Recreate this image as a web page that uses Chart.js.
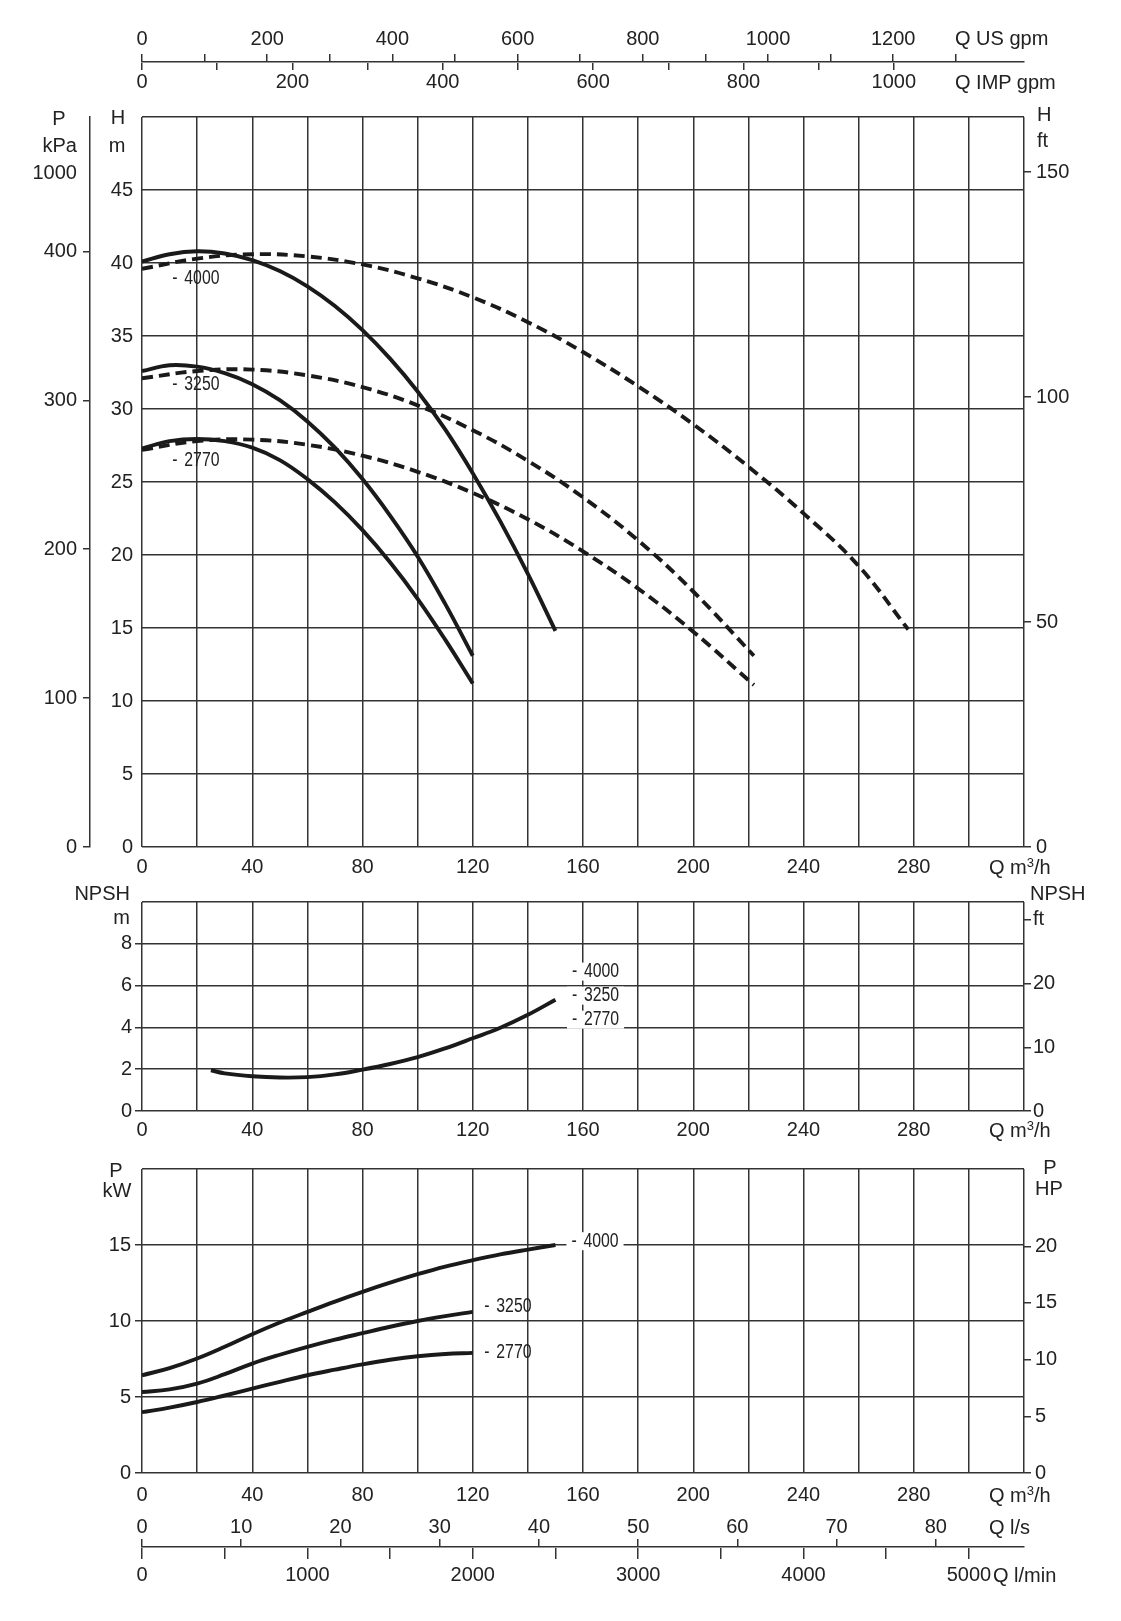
<!DOCTYPE html>
<html>
<head>
<meta charset="utf-8">
<title>Pump curves</title>
<script src="https://cdn.jsdelivr.net/npm/chart.js@4.4.1/dist/chart.umd.min.js"></script>
<style>
  body { margin: 0; background: #fff; }
  #page { position: relative; width: 1121px; height: 1621px; overflow: hidden;
          font-family: "Liberation Sans", Arial, Helvetica, sans-serif; color: #222; }
  #page canvas { position: absolute; left: 0; }
  .lab { position: absolute; font-size: 20px; line-height: 20px; white-space: nowrap; transform: translateY(-50%); }
  .lab sup { font-size: 13px; line-height: 0; vertical-align: 7px; }
</style>
</head>
<body>
<div id="page">
  <canvas id="topAxes" width="1121" height="100" style="top:0"></canvas>
  <canvas id="headChart" width="1121" height="800" style="top:95px"></canvas>
  <canvas id="npshChart" width="1121" height="280" style="top:880px"></canvas>
  <canvas id="powerChart" width="1121" height="360" style="top:1150px"></canvas>
  <canvas id="bottomAxes" width="1121" height="116" style="top:1505px"></canvas>
</div>
<script>
// speeds, used for the curve labels
const rpm = ['4000', '3250', '2770'];

// head H (m) against flow Q (m3/h), solid curves
const qSolid4000 = [0, 10, 20, 30, 40, 50, 60, 70, 80, 90, 100, 110, 120, 130, 140, 150];
const hSolid4000 = [40.1, 40.6, 40.8, 40.65, 40.2, 39.45, 38.4, 37.05, 35.4, 33.45, 31.2, 28.6, 25.6, 22.3, 18.7, 14.8];
const qSolid3250 = [0, 10, 20, 30, 40, 50, 60, 70, 80, 90, 100, 110, 120];
const hSolid3250 = [32.6, 33.0, 32.9, 32.45, 31.7, 30.6, 29.15, 27.35, 25.2, 22.7, 19.9, 16.65, 13.1];
const qSolid2770 = [0, 10, 20, 30, 40, 50, 60, 70, 80, 90, 100, 110, 120];
const hSolid2770 = [27.3, 27.8, 27.95, 27.8, 27.35, 26.5, 25.2, 23.6, 21.7, 19.5, 17.0, 14.2, 11.2];

// head, dashed curves
const qDash4000 = [0, 20, 40, 60, 80, 100, 120, 140, 160, 180, 200, 220, 240, 260, 278];
const hDash4000 = [39.6, 40.3, 40.6, 40.45, 39.9, 38.95, 37.65, 35.95, 33.9, 31.55, 28.95, 26.05, 22.85, 19.25, 14.9];
const qDash3250 = [0, 20, 40, 60, 80, 100, 120, 140, 160, 180, 200, 222];
const hDash3250 = [32.1, 32.6, 32.7, 32.3, 31.5, 30.25, 28.55, 26.45, 23.95, 21.0, 17.5, 13.1];
const qDash2770 = [0, 20, 40, 60, 80, 100, 120, 140, 160, 180, 200, 222];
const hDash2770 = [27.2, 27.8, 27.9, 27.55, 26.8, 25.7, 24.25, 22.45, 20.25, 17.7, 14.75, 11.1];

// NPSH (m)
const qNpsh = [25, 30, 40, 50, 60, 70, 80, 90, 100, 110, 120, 130, 140, 150];
const npsh = [1.95, 1.8, 1.66, 1.6, 1.62, 1.75, 1.98, 2.25, 2.58, 3.0, 3.48, 3.98, 4.6, 5.32];

// shaft power P (kW)
const qPower4000 = [0, 10, 20, 30, 40, 50, 60, 70, 80, 90, 100, 110, 120, 130, 140, 150];
const p4000 = [6.43, 6.9, 7.53, 8.3, 9.13, 9.9, 10.6, 11.28, 11.92, 12.52, 13.08, 13.58, 14.0, 14.38, 14.7, 15.0];
const qPower3250 = [0, 10, 20, 30, 40, 50, 60, 70, 80, 90, 100, 110, 120];
const p3250 = [5.33, 5.5, 5.88, 6.5, 7.2, 7.78, 8.3, 8.77, 9.2, 9.62, 10.0, 10.32, 10.6];
const qPower2770 = [0, 10, 20, 30, 40, 50, 60, 70, 80, 90, 100, 110, 120];
const p2770 = [4.0, 4.3, 4.67, 5.1, 5.55, 6.0, 6.43, 6.8, 7.15, 7.45, 7.68, 7.83, 7.9];

// where the speed labels sit (data coordinates)
const headLabelQ = [11, 11, 11];
const headLabelH = [38.95, 31.65, 26.45];
const npshLabelQ = [156, 156, 156];
const npshLabelV = [6.67, 5.52, 4.37];
const powerLabelQ = [155.8, 124.2, 124.2];
const powerLabelV = [15.25, 10.98, 7.92];

// tick labels
const flowTicks = [0, 40, 80, 120, 160, 200, 240, 280];
const usGpmTicks = [0, 200, 400, 600, 800, 1000, 1200];
const impGpmTicks = [0, 200, 400, 600, 800, 1000];
const lsTicks = [0, 10, 20, 30, 40, 50, 60, 70, 80];
const lminTicks = [0, 1000, 2000, 3000, 4000, 5000];
const headTicks = [0, 5, 10, 15, 20, 25, 30, 35, 40, 45];
const kpaTicks = [0, 100, 200, 300, 400];
const headFtTicks = [0, 50, 100, 150];
const npshTicks = [0, 2, 4, 6, 8];
const npshFtTicks = [0, 10, 20, 30];
const powerTicks = [0, 5, 10, 15];
const hpTicks = [0, 5, 10, 15, 20, 25];

// unit conversions from the main units
const Q_MAX = 320;
const M3H_PER_USGPM = 0.227125;
const M3H_PER_IMPGPM = 0.272765;
const M3H_PER_LS = 3.6;
const M3H_PER_LMIN = 0.06;
const KPA_PER_M = 9.80665;
const FT_PER_M = 3.28084;
const HEAD_FT_PER_M = 3.245;   // the head ft scale on the sheet is drawn a little short
const HP_PER_KW = 1.34102;

const GRID = '#333';
const INK = '#1a1a1a';
const NONE = 'rgba(0,0,0,0)';

Chart.defaults.font.family = '"Liberation Sans", Arial, Helvetica, sans-serif';
Chart.defaults.font.size = 20;
Chart.defaults.color = '#222';

function steps(from, to, step) {
  const out = [];
  for (let v = from; v <= to + 1e-9; v += step) out.push(Math.round(v * 1000) / 1000);
  return out;
}

// replace Chart.js' own tick generation with a fixed list
function fixedTicks(values) {
  return s => { s.ticks = values.map(v => ({ value: v })); };
}

function pts(qs, vs) {
  return qs.map((q, i) => ({ x: q, y: vs[i] }));
}

function curve(qs, vs, dashed) {
  return {
    data: pts(qs, vs),
    borderColor: INK,
    borderWidth: 3.9,
    borderDash: dashed ? [11, 6] : [],
    pointRadius: 0,
    tension: 0.4,
    fill: false
  };
}

// speed labels drawn in condensed type at data positions
const curveLabels = {
  id: 'curveLabels',
  afterDatasetsDraw(chart, args, opts) {
    const ctx = chart.ctx;
    const sx = chart.scales.x, sy = chart.scales.y;
    ctx.save();
    ctx.font = '20px "Liberation Sans", Arial, sans-serif';
    ctx.textBaseline = 'middle';
    opts.items.forEach(it => {
      const x = sx.getPixelForValue(it.q);
      const y = sy.getPixelForValue(it.v);
      const w = ctx.measureText(it.text).width * 0.79;
      if (it.box) {
        ctx.fillStyle = '#fff';
        ctx.fillRect(x - 5, y - 9, w + 22, 18);
      }
      ctx.fillStyle = '#222';
      ctx.save();
      ctx.translate(x, y);
      ctx.scale(0.79, 1);
      ctx.fillText('-', 0, 0);
      ctx.restore();
      ctx.save();
      ctx.translate(x + 12, y);
      ctx.scale(0.79, 1);
      ctx.fillText(it.text, 0, 0);
      ctx.restore();
    });
    ctx.restore();
  }
};

function labelItems(qs, vs, boxed) {
  return rpm.map((t, i) => ({ text: t, q: qs[i], v: vs[i], box: boxed[i] }));
}

function flowAxis(pad, height) {
  return {
    type: 'linear', min: 0, max: Q_MAX,
    afterBuildTicks: fixedTicks(steps(0, Q_MAX, 20)),
    ticks: { autoSkip: false, maxRotation: 0, padding: pad,
             callback: v => flowTicks.includes(v) ? v : '' },
    grid: { color: GRID, lineWidth: 1.5, drawTicks: false },
    border: { display: false },
    afterFit: s => { s.height = height; }
  };
}

function baseOptions(padTop) {
  return {
    responsive: false,
    animation: false,
    events: [],
    layout: { padding: { top: padTop, left: 0, right: 0, bottom: 0 } },
    plugins: { legend: { display: false }, tooltip: { enabled: false } }
  };
}

// ---------- top strip: US gpm / IMP gpm ----------
new Chart(document.getElementById('topAxes'), {
  type: 'line',
  data: { datasets: [] },
  options: Object.assign(baseOptions(0), {
    layout: { padding: { left: 142, right: 97, top: 0, bottom: 0 } },
    scales: {
      x: {
        type: 'linear', position: 'top', min: 0, max: Q_MAX / M3H_PER_USGPM,
        afterBuildTicks: fixedTicks(steps(0, 1300, 100)),
        ticks: { autoSkip: false, maxRotation: 0, padding: 3,
                 callback: v => usGpmTicks.includes(v) ? v : '' },
        grid: { drawOnChartArea: false, tickLength: 8, lineWidth: 1.5, color: GRID },
        border: { display: true, color: GRID, width: 1.5 },
        afterFit: s => { s.height = 62; }
      },
      x2: {
        type: 'linear', position: 'bottom', min: 0, max: Q_MAX / M3H_PER_IMPGPM,
        afterBuildTicks: fixedTicks(steps(0, 1000, 100)),
        ticks: { autoSkip: false, maxRotation: 0, padding: 0,
                 callback: v => impGpmTicks.includes(v) ? v : '' },
        grid: { drawOnChartArea: false, tickLength: 7, lineWidth: 1.5, color: GRID },
        border: { display: false },
        afterFit: s => { s.height = 37; }
      },
      y: { type: 'linear', display: false, min: 0, max: 1 }
    }
  })
});

// ---------- head chart ----------
new Chart(document.getElementById('headChart'), {
  type: 'line',
  data: {
    datasets: [
      curve(qSolid4000, hSolid4000, false),
      curve(qSolid3250, hSolid3250, false),
      curve(qSolid2770, hSolid2770, false),
      curve(qDash4000, hDash4000, true),
      curve(qDash3250, hDash3250, true),
      curve(qDash2770, hDash2770, true)
    ]
  },
  options: Object.assign(baseOptions(22), {
    plugins: {
      legend: { display: false }, tooltip: { enabled: false },
      curveLabels: { items: labelItems(headLabelQ, headLabelH, [false, false, false]) }
    },
    scales: {
      x: flowAxis(8, 48),
      y: {
        type: 'linear', position: 'left', weight: 0, min: 0, max: 50,
        afterBuildTicks: fixedTicks(steps(0, 50, 5)),
        ticks: { padding: 9, autoSkip: false, callback: v => headTicks.includes(v) ? v : '' },
        grid: { color: GRID, lineWidth: 1.5, drawTicks: false },
        border: { display: false },
        afterFit: s => { s.width = 52; }
      },
      kpa: {
        type: 'linear', position: 'left', weight: 1, min: 0, max: 50 * KPA_PER_M,
        afterBuildTicks: fixedTicks(kpaTicks),
        ticks: { padding: 6, autoSkip: false },
        grid: { drawOnChartArea: false, tickLength: 7, lineWidth: 1.5, color: GRID },
        border: { display: true, color: GRID, width: 1.5 },
        afterFit: s => { s.width = 90; }
      },
      ft: {
        type: 'linear', position: 'right', min: 0, max: 50 * HEAD_FT_PER_M,
        afterBuildTicks: fixedTicks(headFtTicks),
        ticks: { padding: 5, autoSkip: false },
        grid: { drawOnChartArea: false, tickLength: 7, lineWidth: 1.5, color: GRID },
        border: { display: false },
        afterFit: s => { s.width = 97; }
      }
    }
  }),
  plugins: [curveLabels]
});

// ---------- NPSH chart ----------
new Chart(document.getElementById('npshChart'), {
  type: 'line',
  data: { datasets: [curve(qNpsh, npsh, false)] },
  options: Object.assign(baseOptions(22), {
    plugins: {
      legend: { display: false }, tooltip: { enabled: false },
      curveLabels: { items: labelItems(npshLabelQ, npshLabelV, [true, true, true]) }
    },
    scales: {
      x: flowAxis(7, 49),
      y: {
        type: 'linear', position: 'left', min: 0, max: 10,
        afterBuildTicks: fixedTicks(steps(0, 10, 2)),
        ticks: { padding: 3, autoSkip: false, callback: v => npshTicks.includes(v) ? v : '' },
        grid: { color: GRID, lineWidth: 1.5, tickLength: 7,
                tickColor: c => (c.tick && c.tick.value >= 10) ? NONE : GRID },
        border: { display: false },
        afterFit: s => { s.width = 142; }
      },
      ft: {
        type: 'linear', position: 'right', min: 0, max: 10 * FT_PER_M,
        afterBuildTicks: fixedTicks(npshFtTicks),
        ticks: { padding: 2, autoSkip: false, callback: v => v === 30 ? 'ft' : v },
        grid: { drawOnChartArea: false, tickLength: 7, lineWidth: 1.5, color: GRID },
        border: { display: false },
        afterFit: s => { s.width = 97; }
      }
    }
  }),
  plugins: [curveLabels]
});

// ---------- power chart ----------
new Chart(document.getElementById('powerChart'), {
  type: 'line',
  data: {
    datasets: [
      curve(qPower4000, p4000, false),
      curve(qPower3250, p3250, false),
      curve(qPower2770, p2770, false)
    ]
  },
  options: Object.assign(baseOptions(19), {
    plugins: {
      legend: { display: false }, tooltip: { enabled: false },
      curveLabels: { items: labelItems(powerLabelQ, powerLabelV, [true, false, false]) }
    },
    scales: {
      x: flowAxis(10, 37),
      y: {
        type: 'linear', position: 'left', min: 0, max: 20,
        afterBuildTicks: fixedTicks(steps(0, 20, 5)),
        ticks: { padding: 4, autoSkip: false, callback: v => powerTicks.includes(v) ? v : '' },
        grid: { color: GRID, lineWidth: 1.5, tickLength: 7,
                tickColor: c => (c.tick && c.tick.value >= 20) ? NONE : GRID },
        border: { display: false },
        afterFit: s => { s.width = 142; }
      },
      hp: {
        type: 'linear', position: 'right', min: 0, max: 20 * HP_PER_KW,
        afterBuildTicks: fixedTicks(hpTicks),
        ticks: { padding: 4, autoSkip: false, callback: v => v === 25 ? 'HP' : v },
        grid: { drawOnChartArea: false, tickLength: 7, lineWidth: 1.5,
                color: c => (c.tick && c.tick.value === 25) ? NONE : GRID },
        border: { display: false },
        afterFit: s => { s.width = 97; }
      }
    }
  }),
  plugins: [curveLabels]
});

// ---------- bottom strip: l/s and l/min ----------
new Chart(document.getElementById('bottomAxes'), {
  type: 'line',
  data: { datasets: [] },
  options: Object.assign(baseOptions(0), {
    layout: { padding: { left: 142, right: 97, top: 0, bottom: 0 } },
    scales: {
      x: {
        type: 'linear', position: 'top', min: 0, max: Q_MAX / M3H_PER_LS,
        afterBuildTicks: fixedTicks(lsTicks),
        ticks: { autoSkip: false, maxRotation: 0, padding: 0 },
        grid: { drawOnChartArea: false, tickLength: 8, lineWidth: 1.5, color: GRID },
        border: { display: true, color: GRID, width: 1.5 },
        afterFit: s => { s.height = 42; }
      },
      x2: {
        type: 'linear', position: 'bottom', min: 0, max: Q_MAX / M3H_PER_LMIN,
        afterBuildTicks: fixedTicks(steps(0, 5000, 500)),
        ticks: { autoSkip: false, maxRotation: 0, padding: 4,
                 callback: v => lminTicks.includes(v) ? v : '' },
        grid: { drawOnChartArea: false, tickLength: 11, lineWidth: 1.5, color: GRID },
        border: { display: false },
        afterFit: s => { s.height = 73; }
      },
      y: { type: 'linear', display: false, min: 0, max: 1 }
    }
  })
});

// ---------- axis headers and unit labels ----------
const page = document.getElementById('page');
function addLabel(html, x, y, align) {
  const el = document.createElement('div');
  el.className = 'lab';
  el.innerHTML = html;
  el.style.top = y + 'px';
  if (align === 'right') {
    el.style.right = (1121 - x) + 'px';
  } else if (align === 'center') {
    el.style.left = x + 'px';
    el.style.transform = 'translate(-50%, -50%)';
  } else {
    el.style.left = x + 'px';
  }
  page.appendChild(el);
}

addLabel('Q US gpm', 955, 38);
addLabel('Q IMP gpm', 955, 82);
addLabel('P', 59, 118, 'center');
addLabel('kPa', 77, 145, 'right');
addLabel('1000', 77, 172, 'right');
addLabel('H', 118, 117, 'center');
addLabel('m', 117, 145, 'center');
addLabel('H', 1037, 114);
addLabel('ft', 1037, 140);
addLabel('Q m<sup>3</sup>/h', 989, 867);
addLabel('NPSH', 130, 893, 'right');
addLabel('m', 130, 917, 'right');
addLabel('NPSH', 1030, 893);
addLabel('Q m<sup>3</sup>/h', 989, 1130);
addLabel('P', 116, 1170, 'center');
addLabel('kW', 117, 1190, 'center');
addLabel('P', 1050, 1167, 'center');
addLabel('Q m<sup>3</sup>/h', 989, 1495);
addLabel('Q l/s', 989, 1527);
addLabel('Q l/min', 993, 1575);
</script>
</body>
</html>
